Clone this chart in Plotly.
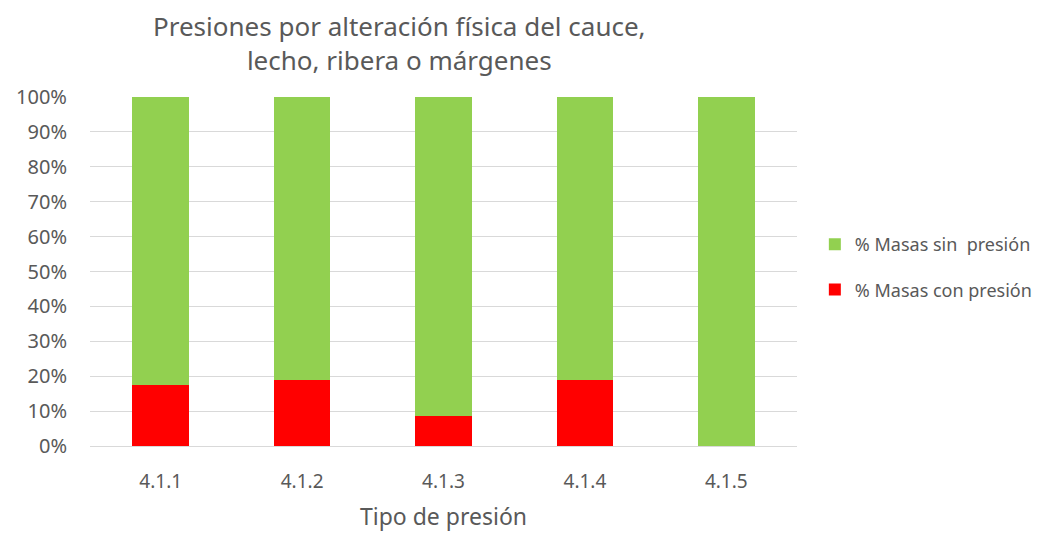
import plotly.graph_objects as go

categorias = ["4.1.1", "4.1.2", "4.1.3", "4.1.4", "4.1.5"]
con_presion = [0.174, 0.188, 0.087, 0.188, 0.0]
sin_presion = [round(1 - v, 3) for v in con_presion]
ticks_vals = [i / 10 for i in range(11)]
ticks_text = [f"{i*10}%" for i in range(11)]

FONT = "Noto Sans"
GREY = "#595959"

fig = go.Figure()
fig.add_trace(go.Bar(x=categorias, y=con_presion, name="% Masas con presión",
                     marker=dict(color="#ff0000", line=dict(width=0)),
                     legendgroup="a", legendrank=2, width=0.4))
fig.add_trace(go.Bar(x=categorias, y=sin_presion, name="% Masas sin  presión",
                     marker=dict(color="#92d050", line=dict(width=0)),
                     legendgroup="b", legendrank=1, width=0.4))

fig.add_annotation(text="Presiones por alteración física del cauce,<br>lecho, ribera o márgenes",
                   xref="paper", yref="paper", x=0.438, y=1, xanchor="center", yanchor="bottom",
                   yshift=17, showarrow=False, align="center",
                   font=dict(size=26, color=GREY, family=FONT))

fig.update_layout(
    barmode="stack",
    width=1042, height=534,
    margin=dict(l=90, r=245, t=97, b=88, autoexpand=False),
    paper_bgcolor="white", plot_bgcolor="white",
    font=dict(family=FONT, color=GREY),
    legend=dict(xref="container", yref="container", x=0.782, y=0.5, xanchor="left", yanchor="middle",
                traceorder="grouped", tracegroupgap=19,
                font=dict(size=18, color=GREY, family=FONT),
                itemwidth=30),
    xaxis=dict(showgrid=False, showline=True, linecolor="#d9d9d9", linewidth=1,
               tickfont=dict(size=19, color=GREY), ticks="", ticklabelstandoff=18,
               title=dict(text="Tipo de presión", font=dict(size=23, color=GREY), standoff=16)),
    yaxis=dict(range=[0, 1], tickvals=ticks_vals, ticktext=ticks_text,
               showgrid=True, gridcolor="#d9d9d9", gridwidth=1, zeroline=False,
               tickfont=dict(size=20, color=GREY), ticks="", ticklabelstandoff=22),
    bargap=0.6,
)

fig.write_html("out.html")
